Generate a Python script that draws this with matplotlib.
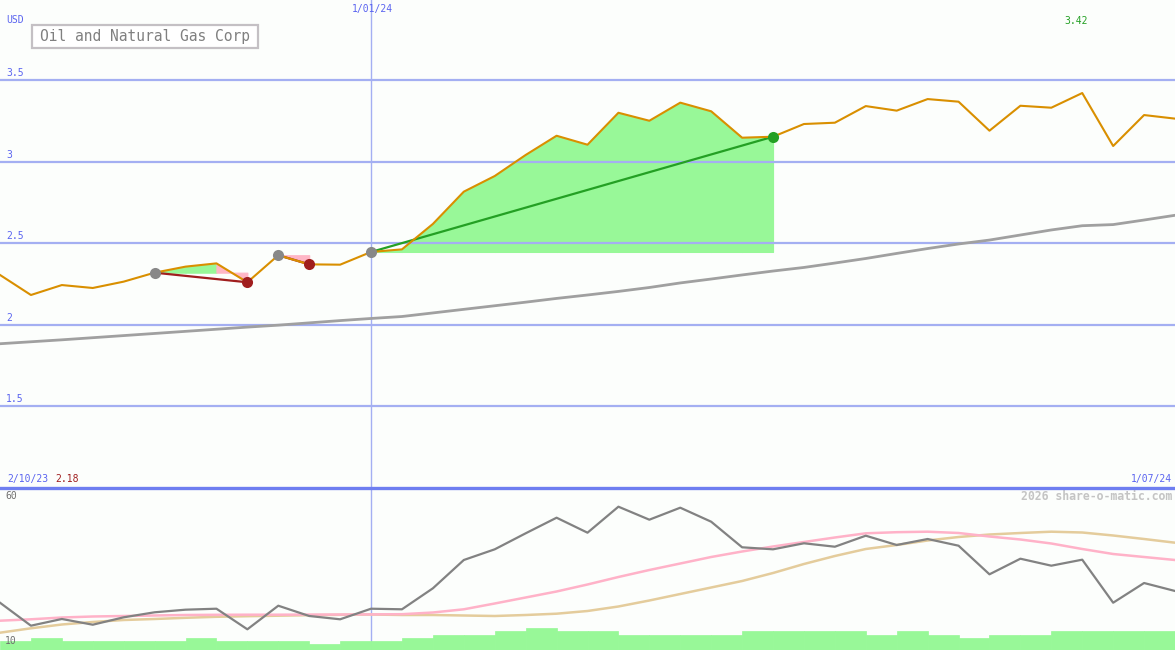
import matplotlib
matplotlib.use("Agg")
import matplotlib.pyplot as plt
from matplotlib.patches import Rectangle
import numpy as np

# ---------------- data ----------------
title = "Oil and Natural Gas Corp"
currency = "USD"
start_label = "2/10/23"
end_label = "1/07/24"
mid_label = "1/01/24"
mid_index = 12
min_label = "2.18"
max_label = "3.42"
max_index = 35
watermark = "2026 share-o-matic.com"

price = [2.304, 2.181, 2.242, 2.224, 2.263, 2.318, 2.355, 2.375, 2.259, 2.425,
         2.369, 2.367, 2.445, 2.461, 2.617, 2.815, 2.911, 3.040, 3.158, 3.103,
         3.299, 3.250, 3.361, 3.308, 3.146, 3.152, 3.230, 3.238, 3.340, 3.312,
         3.383, 3.367, 3.189, 3.342, 3.330, 3.420, 3.095, 3.285, 3.263]

moving_avg = [1.882, 1.894, 1.906, 1.919, 1.932, 1.945, 1.958, 1.971, 1.984, 1.996,
              2.010, 2.024, 2.037, 2.049, 2.071, 2.093, 2.115, 2.137, 2.160, 2.181,
              2.203, 2.227, 2.255, 2.279, 2.304, 2.328, 2.350, 2.377, 2.405, 2.436,
              2.466, 2.494, 2.518, 2.549, 2.580, 2.606, 2.613, 2.641, 2.670]

price_ticks = [1.5, 2.0, 2.5, 3.0, 3.5]
price_tick_labels = ["1.5", "2", "2.5", "3", "3.5"]

# trade signals: (start index, end index)
signal_pairs = [(5, 8), (9, 10), (12, 25)]

# lower panel
osc = [23.82, 16.31, 18.50, 16.63, 19.05, 20.69, 21.54, 21.86, 15.13, 22.84,
       19.48, 18.40, 21.86, 21.67, 28.53, 37.78, 41.27, 46.50, 51.60, 46.70,
       55.20, 50.95, 54.87, 50.29, 41.93, 41.27, 43.24, 42.12, 45.72, 42.68,
       44.64, 42.45, 33.10, 38.20, 35.92, 37.88, 23.82, 30.26, 27.65]

osc_pink_px = [620.7, 619.3, 617.5, 616.5, 616.0, 615.5, 615.0, 614.8, 614.7, 614.7,
               614.6, 614.5, 614.4, 614.2, 612.5, 609.3, 603.5, 597.5, 591.5, 584.5,
               577.0, 570.0, 563.5, 557.0, 551.5, 546.5, 542.0, 537.5, 533.3, 532.2,
               531.7, 533.0, 536.5, 539.5, 543.5, 549.0, 554.0, 557.0, 560.0]
osc_tan_px = [632.7, 628.3, 624.5, 622.0, 620.0, 619.0, 617.8, 616.8, 616.2, 615.7,
              615.2, 614.8, 614.5, 615.0, 615.0, 615.5, 616.0, 615.0, 613.7, 611.0,
              606.5, 600.5, 594.0, 587.5, 581.0, 573.0, 564.0, 556.0, 549.0, 545.0,
              540.5, 537.0, 534.5, 533.0, 531.7, 532.5, 535.5, 539.0, 542.7]
osc_pink = [10 + (645 - y) * 50 / 153 for y in osc_pink_px]
osc_tan = [10 + (645 - y) * 50 / 153 for y in osc_tan_px]

volume = [9, 12, 9, 9, 9, 9, 12, 9, 9, 9, 6.3, 9, 9, 12, 15, 15, 19, 22, 19, 19,
          15, 15, 15, 15, 19, 19, 19, 19, 15, 19, 15, 12, 15, 15, 19, 19, 19, 19]

lower_labels = ["60", "10"]

# ---------------- style ----------------
BG = "#fcfefc"
GRID = "#a4aff2"
SEP = "#6e7ef0"
BLUE_TXT = "#5a64f0"
ORANGE = "#d98f00"
MA_GREY = "#a0a0a0"
GAIN = "#98f898"
LOSS = "#ffb6c6"
GREEN_LINE = "#24a024"
RED_LINE = "#a01e1e"
DOT_GREY = "#888888"
MONO = "DejaVu Sans Mono"

W, H = 1175, 650
fig = plt.figure(figsize=(W / 100, H / 100), dpi=100, facecolor=BG)

def fx(x):
    return x / W

def fy(y):
    return 1 - y / H

n = len(price)
x = np.arange(n)

# top axes spans pixel rows 0..487
ax = fig.add_axes([0, fy(487), 1, 487 / H])
ax.set_facecolor(BG)
ax.set_xlim(0, n - 1)
ax.set_ylim(2.5 - 244 / 163, 2.5 + 243 / 163)
ax.axis("off")

for t in price_ticks:
    ax.axhline(t, color=GRID, lw=1.6, zorder=2)
ax.axvline(mid_index, color=GRID, lw=1.0, zorder=2)

# signal fills and lines
for s, e in signal_pairs:
    level = price[s]
    for j in range(s, e):
        col = GAIN if price[j + 1] >= level else LOSS
        ax.fill_between([j, j + 1], [price[j], price[j + 1]], [level, level],
                        facecolor=col, edgecolor=col, lw=0.8, zorder=1)
    end_col = GREEN_LINE if price[e] >= level else RED_LINE
    ax.plot([s, e], [price[s], price[e]], color=end_col, lw=1.6, zorder=3)

ax.plot(x, moving_avg, color=MA_GREY, lw=2.0, zorder=3)
ax.plot(x, price, color=ORANGE, lw=1.5, zorder=4)

for s, e in signal_pairs:
    level = price[s]
    end_col = GREEN_LINE if price[e] >= level else RED_LINE
    ax.plot([s], [price[s]], "o", color=DOT_GREY, ms=8, mew=0, zorder=5)
    ax.plot([e], [price[e]], "o", color=end_col, ms=8, mew=0, zorder=5)

# tick labels inside plot
for t, lab in zip(price_ticks, price_tick_labels):
    ax.annotate(lab, (0, t), xytext=(6, 2), textcoords="offset pixels",
                ha="left", va="bottom", fontsize=7, color=BLUE_TXT,
                family=MONO, zorder=6)

# separator
fig.add_artist(plt.Line2D([0, 1], [fy(487.5), fy(487.5)], color=SEP, lw=2.4,
                          transform=fig.transFigure, zorder=10))

# lower axes spans rows 489..650
ax2 = fig.add_axes([0, 0, 1, 161 / H])
ax2.set_facecolor(BG)
ax2.patch.set_alpha(0)
ax2.set_xlim(0, n - 1)
ax2.set_ylim(10 - 5 * 50 / 153, 10 + 156 * 50 / 153)
ax2.axis("off")
ax2.axvline(mid_index, color=GRID, lw=1.0, zorder=1)
ax2.plot(x, osc_tan, color="#e4cc9c", lw=1.8, zorder=3)
ax2.plot(x, osc_pink, color="#ffb2c8", lw=1.8, zorder=3)
ax2.plot(x, osc, color="#828282", lw=1.6, zorder=4)

ax3 = ax2.twinx()
ax3.set_position([0, 0, 1, 161 / H])
ax3.set_xlim(0, n - 1)
ax3.set_ylim(0, 161)
ax3.axis("off")
ax3.bar(np.arange(len(volume)), volume, width=1.0, align="edge",
        color=GAIN, edgecolor=GAIN, lw=0.5, zorder=5)

# texts
fig.text(fx(6), fy(20), currency, ha="left", va="center", fontsize=7,
         color=BLUE_TXT, family=MONO)
fig.text(fx(372), fy(9), mid_label, ha="center", va="center", fontsize=7,
         color=BLUE_TXT, family=MONO)
fig.text(fx(1076), fy(21), max_label, ha="center", va="center", fontsize=7,
         color=GREEN_LINE, family=MONO)
fig.text(fx(7), fy(479), start_label, ha="left", va="center", fontsize=7,
         color=BLUE_TXT, family=MONO)
fig.text(fx(55), fy(479), min_label, ha="left", va="center", fontsize=7,
         color=RED_LINE, family=MONO)
fig.text(fx(1172), fy(479), end_label, ha="right", va="center", fontsize=7,
         color=BLUE_TXT, family=MONO)
fig.text(fx(1172), fy(496), watermark, ha="right", va="center", fontsize=8.3,
         color="#c4c4c4", family=MONO, weight="bold")
fig.text(fx(5), fy(496), lower_labels[0], ha="left", va="center", fontsize=7,
         color="#707070", family=MONO)
fig.text(fx(5), fy(641), lower_labels[1], ha="left", va="center", fontsize=7,
         color="#707070", family=MONO, zorder=20)

# title box
fig.add_artist(Rectangle((fx(32), fy(48)), fx(226), 23 / H, transform=fig.transFigure,
                         facecolor="white", edgecolor="#c4c0c4", lw=1.6, zorder=9))
fig.text(fx(145), fy(36.5), title, ha="center", va="center", fontsize=10.5,
         color="#808080", family=MONO, zorder=11)

fig.savefig("out.png", dpi=100, facecolor=BG)
